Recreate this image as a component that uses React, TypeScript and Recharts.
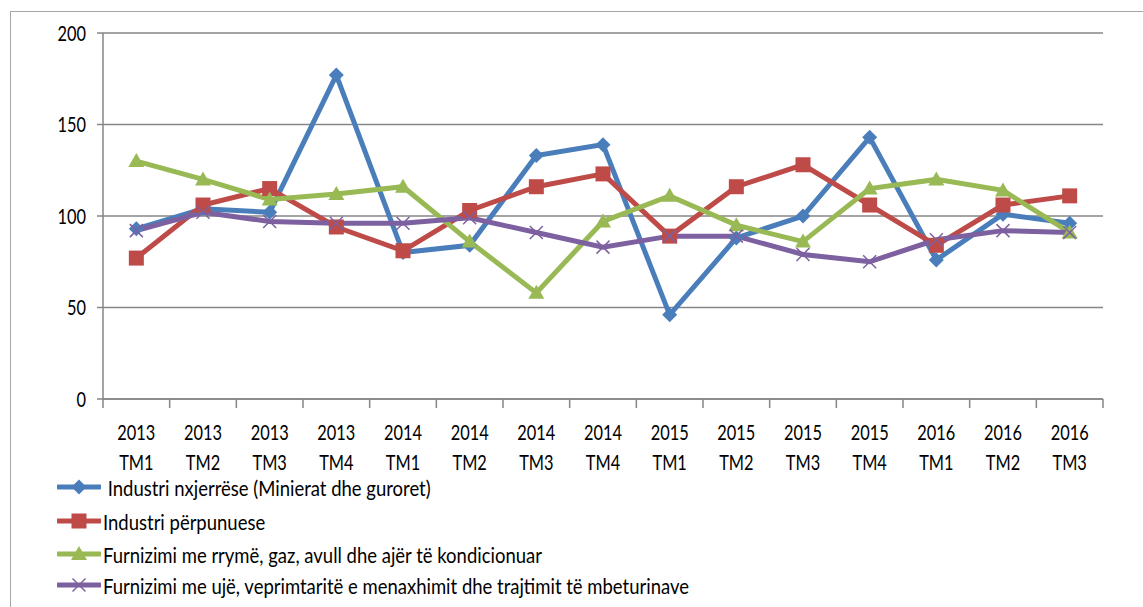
import React from 'react';
import { LineChart, Line, XAxis, YAxis, CartesianGrid } from 'recharts';

// Indekset tremujore sipas degëve të industrisë

const quarters = [
  '2013 TM1', '2013 TM2', '2013 TM3', '2013 TM4',
  '2014 TM1', '2014 TM2', '2014 TM3', '2014 TM4',
  '2015 TM1', '2015 TM2', '2015 TM3', '2015 TM4',
  '2016 TM1', '2016 TM2', '2016 TM3',
];

const nxjerrese = [93, 104, 102, 177, 80, 84, 133, 139, 46, 88, 100, 143, 76, 101, 96];
const perpunuese = [77, 106, 115, 94, 81, 103, 116, 123, 89, 116, 128, 106, 84, 106, 111];
const energji = [130, 120, 109, 112, 116, 86, 58, 97, 111, 95, 86, 115, 120, 114, 91];
const uje = [92, 102, 97, 96, 96, 99, 91, 83, 89, 89, 79, 75, 87, 92, 91];

const yTicks = [0, 50, 100, 150, 200];

const seriesNames = [
  ' Industri nxjerrëse (Minierat dhe guroret)',
  'Industri përpunuese',
  'Furnizimi me rrymë, gaz, avull dhe ajër të kondicionuar',
  'Furnizimi me ujë, veprimtaritë e menaxhimit dhe trajtimit të mbeturinave',
];

const colors = ['#4A7EBB', '#BE4B48', '#98B954', '#7D60A0'];
const shapes = ['diamond', 'square', 'triangle', 'cross'];

const FONT = 'Lato, "Liberation Sans", sans-serif';
const SQUEEZE = 0.78; // the source picture is narrowed horizontally
const LEGEND_SQUEEZE = 0.88;

const data = quarters.map((q, i) => ({
  q,
  nxjerrese: nxjerrese[i],
  perpunuese: perpunuese[i],
  energji: energji[i],
  uje: uje[i],
}));

const keys = ['nxjerrese', 'perpunuese', 'energji', 'uje'];

function Marker({ shape, cx, cy, color }: any) {
  if (cx == null || cy == null) return null;
  if (shape === 'diamond') {
    const r = 7.5;
    return <polygon points={`${cx},${cy - r} ${cx + r},${cy} ${cx},${cy + r} ${cx - r},${cy}`} fill={color} />;
  }
  if (shape === 'square') {
    return <rect x={cx - 7.5} y={cy - 7.5} width={15} height={15} fill={color} />;
  }
  if (shape === 'triangle') {
    return <polygon points={`${cx},${cy - 8} ${cx + 8},${cy + 6} ${cx - 8},${cy + 6}`} fill={color} />;
  }
  const r = 6.5;
  return (
    <g stroke={color} strokeWidth={1.5}>
      <line x1={cx - r} y1={cy - r} x2={cx + r} y2={cy + r} />
      <line x1={cx - r} y1={cy + r} x2={cx + r} y2={cy - r} />
    </g>
  );
}

const makeDot = (i: number) => (props: any) => (
  <Marker key={`${i}-${props.index}`} shape={shapes[i]} cx={props.cx} cy={props.cy} color={colors[i]} />
);

function QuarterTick(props: any) {
  const { x, y, payload, index } = props;
  const half = payload.offset || 1000 / quarters.length / 2;
  const [year, tm] = String(payload.value).split(' ');
  return (
    <g>
      <line x1={x - half} y1={y} x2={x - half} y2={y + 9} stroke="#868686" strokeWidth={1.5} />
      {index === quarters.length - 1 && (
        <line x1={x + half} y1={y} x2={x + half} y2={y + 9} stroke="#868686" strokeWidth={1.5} />
      )}
      <g transform={`translate(${x},${y}) scale(${SQUEEZE},1)`}>
        <text x={0} y={41} textAnchor="middle" fontSize={21} fill="#000" fontFamily={FONT}>{year}</text>
        <text x={0} y={71} textAnchor="middle" fontSize={21} fill="#000" fontFamily={FONT}>{tm}</text>
      </g>
    </g>
  );
}

function ValueTick(props: any) {
  const { x, y, payload } = props;
  return (
    <g transform={`translate(${x},${y}) scale(${SQUEEZE},1)`}>
      <text x={0} y={0} dy="0.36em" textAnchor="end" fontSize={21} fill="#000" fontFamily={FONT}>
        {payload.value}
      </text>
    </g>
  );
}

const legendRows = [487, 521, 554, 585];

export default function App() {
  return (
    <div style={{ position: 'absolute', left: 0, top: 0, width: 1143, height: 607, overflow: 'hidden', background: '#fff' }}>
      <div style={{ position: 'absolute', left: 10, top: 11, width: 1200, height: 700, borderTop: '1.5px solid #a6a6a6', borderLeft: '1.5px solid #a6a6a6' }} />
      <LineChart
        width={1143}
        height={607}
        data={data}
        margin={{ top: 33, right: 40, left: 0, bottom: 128 }}
        style={{ position: 'absolute', left: 0, top: 0 }}
      >
        <CartesianGrid vertical={false} stroke="#868686" strokeWidth={1.5} />
        <XAxis
          dataKey="q"
          scale="band"
          height={80}
          interval={0}
          tickLine={false}
          tickSize={0}
          tickMargin={0}
          axisLine={{ stroke: '#868686', strokeWidth: 1.5 }}
          tick={<QuarterTick />}
        />
        <YAxis
          width={103}
          domain={[0, 200]}
          ticks={yTicks}
          tickSize={6}
          tickMargin={11}
          axisLine={{ stroke: '#868686', strokeWidth: 1.5 }}
          tickLine={{ stroke: '#868686', strokeWidth: 1.5 }}
          tick={<ValueTick />}
        />
        {keys.map((k, i) => (
          <Line
            key={k}
            dataKey={k}
            name={seriesNames[i]}
            stroke={colors[i]}
            strokeWidth={5}
            dot={makeDot(i)}
            activeDot={false}
            isAnimationActive={false}
          />
        ))}
      </LineChart>
      {seriesNames.map((name, i) => (
        <div
          key={name}
          style={{ position: 'absolute', left: 57, top: legendRows[i] - 15, height: 30, display: 'flex', alignItems: 'center', whiteSpace: 'pre' }}
        >
          <svg width={44} height={30} style={{ flex: 'none' }}>
            <line x1={1} y1={15} x2={43} y2={15} stroke={colors[i]} strokeWidth={5} strokeLinecap="round" />
            <Marker shape={shapes[i]} cx={22} cy={15} color={colors[i]} />
          </svg>
          <span
            style={{
              fontFamily: FONT,
              fontSize: 21,
              color: '#000',
              marginLeft: 2,
              display: 'inline-block',
              transform: `scaleX(${LEGEND_SQUEEZE})`,
              transformOrigin: 'left center',
            }}
          >
            {name}
          </span>
        </div>
      ))}
    </div>
  );
}
